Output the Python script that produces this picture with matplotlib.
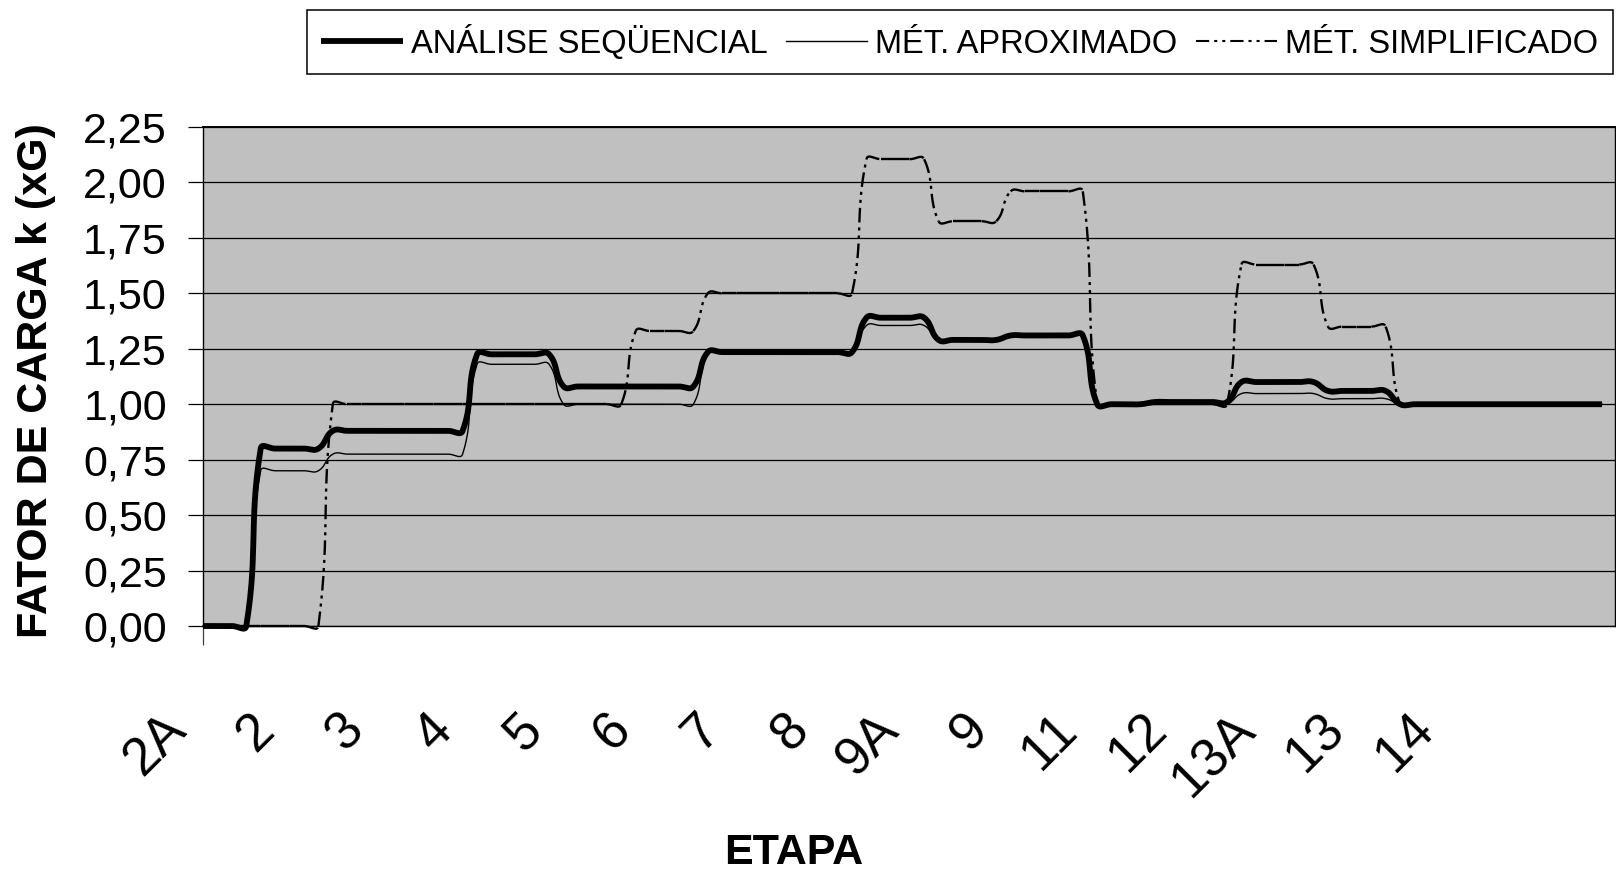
import matplotlib
matplotlib.use('Agg')
import matplotlib.pyplot as plt
from matplotlib.collections import LineCollection
import numpy as np

seq_levels = [0.0, 0.80, 0.88, 1.225, 1.08, 1.235, 1.39, 1.29, 1.31, 1.0, 1.01, 1.10, 1.06, 1.0]
seq_counts = [4, 5, 10, 6, 10, 11, 5, 5, 6, 4, 6, 6, 5, 15]

apr_levels = [0.0, 0.70, 0.775, 1.18, 1.0, 1.23, 1.355, 1.285, 1.305, 1.0, 1.0, 1.048, 1.025, 1.0]
apr_counts = [4, 5, 10, 6, 10, 11, 5, 5, 6, 4, 6, 6, 5, 15]

simp_levels = [0.0, 1.0, 1.33, 1.50, 2.105, 1.825, 1.96, 1.0, 1.63, 1.35, 1.0]
simp_counts = [9, 21, 5, 11, 5, 5, 6, 10, 6, 5, 15]

etapas = ['2A', '2', '3', '4', '5', '6', '7', '8', '9A', '9', '11', '12', '13A', '13', '14']
yticks = [0, 0.25, 0.5, 0.75, 1.0, 1.25, 1.5, 1.75, 2.0, 2.25]

plt.rcParams['font.family'] = ['Liberation Sans', 'DejaVu Sans']
plt.rcParams['lines.scale_dashes'] = False

W, H = 1616, 872
fig = plt.figure(figsize=(W / 100, H / 100), dpi=100)
ax_pos = [203 / W, (H - 626) / H, (1615 - 203) / W, (626 - 127) / H]
ax = fig.add_axes(ax_pos)
ax.set_facecolor('#c0c0c0')

xmax = 97.9
ax.set_xlim(0, xmax)
ax.set_ylim(0, 2.25)

# pixel scale, used for Excel-like smoothing in screen space
sx = ax_pos[2] * W / xmax
sy = ax_pos[3] * H / 2.25
NSEG = 16


def smooth(xv, yv, tension=0.45, n=NSEG):
    p = np.column_stack([xv * sx, yv * sy])
    pts = [p[0]]
    t = np.linspace(0, 1, n)[1:, None]
    for i in range(len(p) - 1):
        p0 = p[max(i - 1, 0)]
        p1, p2 = p[i], p[i + 1]
        p3 = p[min(i + 2, len(p) - 1)]
        d01 = np.linalg.norm(p1 - p0)
        d12 = np.linalg.norm(p2 - p1)
        d23 = np.linalg.norm(p3 - p2)
        c1 = p1 + (p2 - p0) * tension * d12 / max(d01 + d12, 1e-9)
        c2 = p2 - (p3 - p1) * tension * d12 / max(d12 + d23, 1e-9)
        seg = (1 - t) ** 3 * p1 + 3 * (1 - t) ** 2 * t * c1 + 3 * (1 - t) * t ** 2 * c2 + t ** 3 * p2
        pts.extend(seg)
    pts = np.array(pts)
    return pts[:, 0] / sx, pts[:, 1] / sy


seq = np.repeat(seq_levels, seq_counts)
apr = np.repeat(apr_levels, apr_counts)
simp = np.repeat(simp_levels, simp_counts)
k = np.arange(len(seq))

x, y = smooth(k, seq)
ax.plot(x, y, color='black', lw=4.2, label='ANÁLISE SEQÜENCIAL', clip_on=False, zorder=3,
        solid_capstyle='butt')
x, y = smooth(k, apr)
ax.plot(x, y, color='black', lw=1.0, label='MÉT. APROXIMADO', clip_on=False, zorder=4)

# dash-dot-dot; Excel restarts the dash pattern at every data point
dash = (0, (10.5, 3.6, 2.2, 3.6, 2.2, 3.6))
x, y = smooth(k, simp)
xy = np.column_stack([x, y])
segs = [xy[i * (NSEG - 1):(i + 1) * (NSEG - 1) + 1] for i in range(len(k) - 1)]
ax.add_collection(LineCollection(segs, colors='black', linewidths=1.7, linestyles=[dash],
                                 clip_on=False, zorder=5))
ax.plot([], [], color='black', lw=1.5, linestyle=(0, (9.5, 3.6, 2.2, 3.6, 2.2, 3.6)),
        label='MÉT. SIMPLIFICADO')

ax.set_yticks(yticks)
ax.set_yticklabels([f'{v:.2f}'.replace('.', ',') for v in yticks], fontsize=31)
ax.yaxis.grid(True, color='black', lw=0.9)
ax.set_axisbelow(True)
ax.tick_params(axis='y', direction='out', length=11, width=0.9, pad=15, color='black')

ax.set_xticks([])
ax.set_xticks([0], minor=True)
ax.tick_params(axis='x', which='minor', direction='out', length=14, width=0.9, color='#404040')
for s in ax.spines.values():
    s.set_color('black')
    s.set_linewidth(1.0)
ax.spines['top'].set_linewidth(1.4)

# rotated etapa labels, spaced as in the picture
lab_step = 89.15 / sx
lab_x0 = (179 - 204.5) / sx
lab_y = (626 - 722) / (626 - 127)
for i, lab in enumerate(etapas):
    ax.text(lab_x0 + i * lab_step, lab_y, lab, transform=ax.get_xaxis_transform(),
            rotation=45, rotation_mode='anchor', ha='right', va='center',
            fontsize=38, clip_on=False)

fig.text(36 / W, 1 - 381 / H, 'FATOR DE CARGA k (xG)', rotation=90, ha='center', va='center',
         fontsize=31, fontweight='bold')
fig.text(794 / W, 1 - 864 / H, 'ETAPA', ha='center', va='baseline',
         fontsize=31, fontweight='bold')

leg = fig.legend(loc='upper right', bbox_to_anchor=(1613 / W, 1 - 10 / H), ncol=3,
                 prop={'size': 23.5},
                 frameon=True, fancybox=False, framealpha=1, edgecolor='black',
                 borderaxespad=0, borderpad=0.45, handlelength=2.5, handletextpad=0.25,
                 columnspacing=0.55)
leg.get_frame().set_linewidth(1.1)

fig.savefig('out.png', dpi=100)
